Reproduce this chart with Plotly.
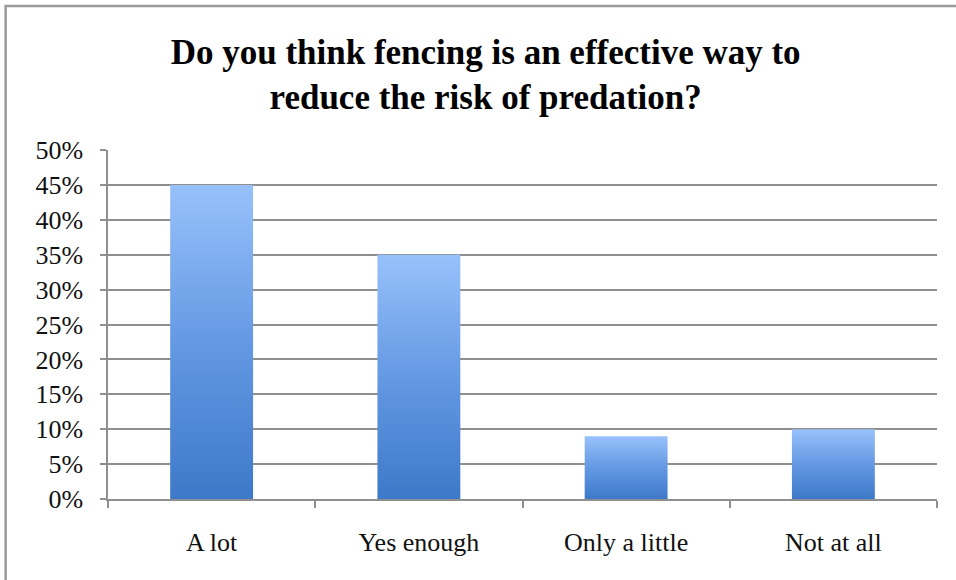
import plotly.graph_objects as go

# Survey responses
categories = ["A lot", "Yes enough", "Only a little", "Not at all"]
shares = [45, 35, 9, 10]          # percent of respondents
y_ticks = list(range(0, 51, 5))
y_tick_labels = [f"{t}%" for t in y_ticks]

BAR_WIDTH = 0.40
GRID = "#8f8f8f"
SERIF = "Liberation Serif, Times New Roman, serif"

fig = go.Figure()

# Each column is a filled shape so it can carry a vertical gradient
for i, v in enumerate(shares):
    left, right = i - BAR_WIDTH / 2, i + BAR_WIDTH / 2
    fig.add_trace(go.Scatter(
        x=[left, right, right, left, left],
        y=[0, 0, v, v, 0],
        mode="lines",
        line=dict(width=0, color="rgba(0,0,0,0)"),
        fill="toself",
        fillgradient=dict(
            type="vertical",
            colorscale=[[0, "#3d79c9"], [0.5, "#6499e3"], [1, "#98c1fb"]],
        ),
        name=categories[i],
        hovertemplate=f"{categories[i]}: {v}%<extra></extra>",
        showlegend=False,
    ))

fig.update_layout(
    width=956,
    height=580,
    margin=dict(l=108, r=19, t=150, b=81),
    paper_bgcolor="white",
    plot_bgcolor="white",
    title=dict(
        text="Do you think fencing is an effective way to<br>reduce the risk of predation?",
        x=0.508, xanchor="center",
        y=0.89, yanchor="top", yref="container",
        font=dict(family=SERIF, size=35, color="black", weight="bold"),
    ),
    font=dict(family=SERIF, color="#111111"),
    xaxis=dict(
        range=[-0.5, len(categories) - 0.5],
        tickvals=list(range(len(categories))),
        ticktext=categories,
        ticks="",
        tickfont=dict(size=26),
        ticklabelstandoff=19,
        showgrid=False,
        zeroline=False,
        showline=True, linecolor=GRID, linewidth=1.5,
        minor=dict(
            tickvals=[k - 0.5 for k in range(len(categories) + 1)],
            ticks="outside", ticklen=7, tickcolor=GRID, tickwidth=1.5,
            showgrid=False,
        ),
        fixedrange=True,
    ),
    yaxis=dict(
        range=[0, 50],
        tickvals=y_ticks,
        ticktext=y_tick_labels,
        ticks="outside", ticklen=6, tickcolor=GRID, tickwidth=1.5,
        tickfont=dict(size=26),
        ticklabelstandoff=12,
        showgrid=True, gridcolor=GRID, gridwidth=1.5,
        zeroline=False,
        showline=True, linecolor=GRID, linewidth=1.5,
        fixedrange=True,
    ),
    shapes=[
        # outer frame of the chart card (top and left edges visible)
        dict(type="rect", xref="paper", yref="paper",
             x0=-0.1235, x1=1.2, y0=-0.5, y1=1.4126,
             line=dict(color="#9a9a9a", width=2.5), fillcolor="rgba(0,0,0,0)",
             layer="below"),
    ],
)

fig.write_html("out.html")
